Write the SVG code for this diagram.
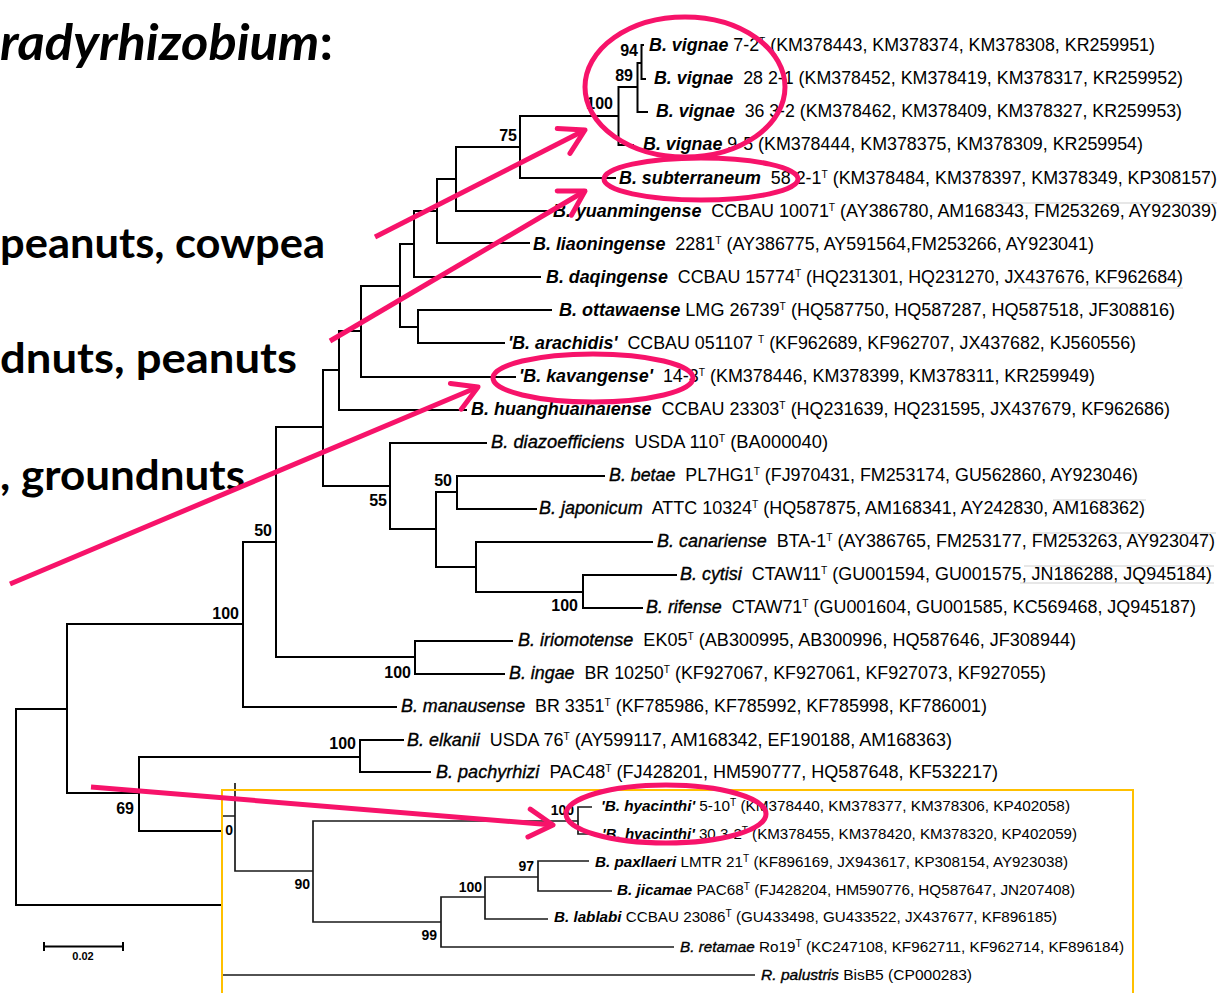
<svg xmlns="http://www.w3.org/2000/svg" width="1230" height="993" viewBox="0 0 1230 993">
<defs>
<style>
.tree{fill:none;stroke:#000;stroke-width:2}
.inner{fill:none;stroke:#1a1a1a;stroke-width:1.7}
.lbl{font-family:"Liberation Sans",Arial,sans-serif;font-size:17.5px;fill:#000}
.lo{font-size:15px}
.sp{font-weight:bold;font-style:italic}
.spi{font-style:italic;stroke:#000;stroke-width:0.35}
.sup{font-size:10px}
.bs{font-family:"Liberation Sans",Arial,sans-serif;font-weight:bold;font-size:16px;text-anchor:end;fill:#000}
.bs2{font-size:14px}
.big{font-family:Lato,"Open Sans",sans-serif;font-weight:bold;fill:#000}
.pk{fill:none;stroke:#F7136A;stroke-width:5}
.grid{stroke:#cfcfcf;stroke-width:1}
</style>
<marker id="ah" markerUnits="userSpaceOnUse" orient="auto" overflow="visible" viewBox="-30 -20 40 40" markerWidth="40" markerHeight="40" refX="0" refY="0">
<path d="M-24,-14 L0,0 L-24,14" fill="none" stroke="#F7136A" stroke-width="5" stroke-linecap="round" stroke-linejoin="round"/>
</marker>
</defs>
<rect width="1230" height="993" fill="#fff"/>

<g id="left-text">
<text class="big" x="0" y="60" font-size="50" font-style="italic" textLength="333" lengthAdjust="spacingAndGlyphs">radyrhizobium<tspan font-style="normal">:</tspan></text>
<text class="big" x="0" y="258" font-size="42" textLength="325" lengthAdjust="spacingAndGlyphs">peanuts, cowpea</text>
<text class="big" x="0" y="373" font-size="42" textLength="297" lengthAdjust="spacingAndGlyphs">dnuts, peanuts</text>
<text class="big" x="0" y="490" font-size="42" textLength="245" lengthAdjust="spacingAndGlyphs">, groundnuts</text>
</g>

<g id="grid-lines">
<path class="grid" d="M995,203H1217M1018,288H1183M1053,500H1146M1033,533H1216M1024,566H1214M1020,583H1214"/>
</g>

<g id="connectors">
<path class="tree" d="M644,45H641.5V79H646 M641.5,63H637.5V112H648 M637.5,87H618.5V145H634 M618.5,116H520V178H616 M520,147H456V211H551 M456,179H437V243H530 M437,211H414V277H541 M414,244H400V327H418 M552,310H418V343H505 M400,286H361V377H516 M361,331H339V410H467 M339,370H323V486H390 M487,443H390V529H436 M457,492H436V567H476 M605,476H457V509H537 M653,542H476V592H583 M677,575H583V608H643 M323,427H276V657H415 M513,641H415V674H505 M276,542H243V707H397 M243,624H67V793H139 M67,709H16V905H222 M360,757H139V831H222 M404,740H360V772H431"/>
<path class="inner" d="M222,816H235 M235,783V871H313 M578,821H313V922H441 M592,807H578V834H590 M485,897H441V947H674 M538,877H485V919H548 M589,861H538V891H612 M222,975H755"/>
</g>

<g id="yellow-box">
<path d="M222,1000V790H1133V1000" fill="none" stroke="#FFC000" stroke-width="2"/>
</g>

<g id="scale-bar">
<path d="M44,946.5H123M44,942V951M123,942V951" fill="none" stroke="#000" stroke-width="2"/>
<text x="83" y="960" font-family="Liberation Sans, Arial, sans-serif" font-size="11" font-weight="bold" text-anchor="middle">0.02</text>
</g>

<g id="bootstrap">
<text class="bs" x="638" y="56">94</text>
<text class="bs" x="633" y="81">89</text>
<text class="bs" x="613" y="109">100</text>
<text class="bs" x="517" y="141">75</text>
<text class="bs" x="387" y="506">55</text>
<text class="bs" x="452" y="486">50</text>
<text class="bs" x="578" y="611">100</text>
<text class="bs" x="272" y="536">50</text>
<text class="bs" x="411" y="678">100</text>
<text class="bs" x="239" y="619">100</text>
<text class="bs" x="356" y="749">100</text>
<text class="bs" x="134" y="814">69</text>
<text class="bs bs2" x="233" y="835">0</text>
<text class="bs bs2" x="574" y="815">100</text>
<text class="bs bs2" x="534" y="871">97</text>
<text class="bs bs2" x="482" y="892">100</text>
<text class="bs bs2" x="310" y="889">90</text>
<text class="bs bs2" x="437" y="940">99</text>
</g>

<g id="leaf-vignae-7-2"><text class="lbl" x="649" y="51" textLength="506" lengthAdjust="spacingAndGlyphs" xml:space="preserve"><tspan class="sp">B. vignae</tspan> 7-2<tspan class="sup" dy="-6">T</tspan><tspan dy="6"> (KM378443, KM378374, KM378308, KR259951)</tspan></text></g>
<g id="leaf-vignae-28"><text class="lbl" x="654" y="84" textLength="529" lengthAdjust="spacingAndGlyphs" xml:space="preserve"><tspan class="sp">B. vignae</tspan>  28 2-1 (KM378452, KM378419, KM378317, KR259952)</text></g>
<g id="leaf-vignae-36"><text class="lbl" x="656" y="117" textLength="526" lengthAdjust="spacingAndGlyphs" xml:space="preserve"><tspan class="sp">B. vignae</tspan>  36 3-2 (KM378462, KM378409, KM378327, KR259953)</text></g>
<g id="leaf-vignae-9-5"><text class="lbl" x="643" y="150" textLength="500" lengthAdjust="spacingAndGlyphs" xml:space="preserve"><tspan class="sp">B. vignae</tspan> 9-5 (KM378444, KM378375, KM378309, KR259954)</text></g>
<g id="leaf-subterraneum"><text class="lbl" x="619" y="184" textLength="598" lengthAdjust="spacingAndGlyphs" xml:space="preserve"><tspan class="sp">B. subterraneum</tspan>  58 2-1<tspan class="sup" dy="-6">T</tspan><tspan dy="6"> (KM378484, KM378397, KM378349, KP308157)</tspan></text></g>
<g id="leaf-yuanmingense"><text class="lbl" x="553" y="217" textLength="664" lengthAdjust="spacingAndGlyphs" xml:space="preserve"><tspan class="sp">B. yuanmingense</tspan>  CCBAU 10071<tspan class="sup" dy="-6">T</tspan><tspan dy="6"> (AY386780, AM168343, FM253269, AY923039)</tspan></text></g>
<g id="leaf-liaoningense"><text class="lbl" x="533" y="250" textLength="561" lengthAdjust="spacingAndGlyphs" xml:space="preserve"><tspan class="sp">B. liaoningense</tspan>  2281<tspan class="sup" dy="-6">T</tspan><tspan dy="6"> (AY386775, AY591564,FM253266, AY923041)</tspan></text></g>
<g id="leaf-daqingense"><text class="lbl" x="546" y="283" textLength="637" lengthAdjust="spacingAndGlyphs" xml:space="preserve"><tspan class="sp">B. daqingense</tspan>  CCBAU 15774<tspan class="sup" dy="-6">T</tspan><tspan dy="6"> (HQ231301, HQ231270, JX437676, KF962684)</tspan></text></g>
<g id="leaf-ottawaense"><text class="lbl" x="559" y="316" textLength="616" lengthAdjust="spacingAndGlyphs" xml:space="preserve"><tspan class="sp">B. ottawaense</tspan> LMG 26739<tspan class="sup" dy="-6">T</tspan><tspan dy="6"> (HQ587750, HQ587287, HQ587518, JF308816)</tspan></text></g>
<g id="leaf-arachidis"><text class="lbl" x="508" y="349" textLength="628" lengthAdjust="spacingAndGlyphs" xml:space="preserve"><tspan class="sp">'B. arachidis'</tspan>  CCBAU 051107 <tspan class="sup" dy="-6">T</tspan><tspan dy="6"> (KF962689, KF962707, JX437682, KJ560556)</tspan></text></g>
<g id="leaf-kavangense"><text class="lbl" x="519" y="382" textLength="576" lengthAdjust="spacingAndGlyphs" xml:space="preserve"><tspan class="sp">'B. kavangense'</tspan>  14-3<tspan class="sup" dy="-6">T</tspan><tspan dy="6"> (KM378446, KM378399, KM378311, KR259949)</tspan></text></g>
<g id="leaf-huanghuaihaiense"><text class="lbl" x="471" y="415" textLength="699" lengthAdjust="spacingAndGlyphs" xml:space="preserve"><tspan class="sp">B. huanghuaihaiense</tspan>  CCBAU 23303<tspan class="sup" dy="-6">T</tspan><tspan dy="6"> (HQ231639, HQ231595, JX437679, KF962686)</tspan></text></g>
<g id="leaf-diazoefficiens"><text class="lbl" x="491" y="448" textLength="337" lengthAdjust="spacingAndGlyphs" xml:space="preserve"><tspan class="spi">B. diazoefficiens</tspan>  USDA 110<tspan class="sup" dy="-6">T</tspan><tspan dy="6"> (BA000040)</tspan></text></g>
<g id="leaf-betae"><text class="lbl" x="609" y="481" textLength="529" lengthAdjust="spacingAndGlyphs" xml:space="preserve"><tspan class="spi">B. betae</tspan>  PL7HG1<tspan class="sup" dy="-6">T</tspan><tspan dy="6"> (FJ970431, FM253174, GU562860, AY923046)</tspan></text></g>
<g id="leaf-japonicum"><text class="lbl" x="539" y="514" textLength="606" lengthAdjust="spacingAndGlyphs" xml:space="preserve"><tspan class="spi">B. japonicum</tspan>  ATTC 10324<tspan class="sup" dy="-6">T</tspan><tspan dy="6"> (HQ587875, AM168341, AY242830, AM168362)</tspan></text></g>
<g id="leaf-canariense"><text class="lbl" x="657" y="547" textLength="558" lengthAdjust="spacingAndGlyphs" xml:space="preserve"><tspan class="spi">B. canariense</tspan>  BTA-1<tspan class="sup" dy="-6">T</tspan><tspan dy="6"> (AY386765, FM253177, FM253263, AY923047)</tspan></text></g>
<g id="leaf-cytisi"><text class="lbl" x="680" y="580" textLength="532" lengthAdjust="spacingAndGlyphs" xml:space="preserve"><tspan class="spi">B. cytisi</tspan>  CTAW11<tspan class="sup" dy="-6">T</tspan><tspan dy="6"> (GU001594, GU001575, JN186288, JQ945184)</tspan></text></g>
<g id="leaf-rifense"><text class="lbl" x="646" y="613" textLength="550" lengthAdjust="spacingAndGlyphs" xml:space="preserve"><tspan class="spi">B. rifense</tspan>  CTAW71<tspan class="sup" dy="-6">T</tspan><tspan dy="6"> (GU001604, GU001585, KC569468, JQ945187)</tspan></text></g>
<g id="leaf-iriomotense"><text class="lbl" x="518" y="646" textLength="558" lengthAdjust="spacingAndGlyphs" xml:space="preserve"><tspan class="spi">B. iriomotense</tspan>  EK05<tspan class="sup" dy="-6">T</tspan><tspan dy="6"> (AB300995, AB300996, HQ587646, JF308944)</tspan></text></g>
<g id="leaf-ingae"><text class="lbl" x="509" y="679" textLength="537" lengthAdjust="spacingAndGlyphs" xml:space="preserve"><tspan class="spi">B. ingae</tspan>  BR 10250<tspan class="sup" dy="-6">T</tspan><tspan dy="6"> (KF927067, KF927061, KF927073, KF927055)</tspan></text></g>
<g id="leaf-manausense"><text class="lbl" x="401" y="712" textLength="586" lengthAdjust="spacingAndGlyphs" xml:space="preserve"><tspan class="spi">B. manausense</tspan>  BR 3351<tspan class="sup" dy="-6">T</tspan><tspan dy="6"> (KF785986, KF785992, KF785998, KF786001)</tspan></text></g>
<g id="leaf-elkanii"><text class="lbl" x="407" y="746" textLength="545" lengthAdjust="spacingAndGlyphs" xml:space="preserve"><tspan class="spi">B. elkanii</tspan>  USDA 76<tspan class="sup" dy="-6">T</tspan><tspan dy="6"> (AY599117, AM168342, EF190188, AM168363)</tspan></text></g>
<g id="leaf-pachyrhizi"><text class="lbl" x="436" y="778" textLength="562" lengthAdjust="spacingAndGlyphs" xml:space="preserve"><tspan class="spi">B. pachyrhizi</tspan>  PAC48<tspan class="sup" dy="-6">T</tspan><tspan dy="6"> (FJ428201, HM590777, HQ587648, KF532217)</tspan></text></g>

<g id="leaf-hyacinthi-5-10"><text class="lbl lo" x="601" y="811" textLength="469" lengthAdjust="spacingAndGlyphs" xml:space="preserve"><tspan class="sp">'B. hyacinthi'</tspan> 5-10<tspan class="sup" dy="-5">T</tspan><tspan dy="5"> (KM378440, KM378377, KM378306, KP402058)</tspan></text></g>
<g id="leaf-hyacinthi-30"><text class="lbl lo" x="602" y="839" textLength="475" lengthAdjust="spacingAndGlyphs" xml:space="preserve"><tspan class="sp">'B. hyacinthi'</tspan> 30 3-2<tspan class="sup" dy="-5">T</tspan><tspan dy="5"> (KM378455, KM378420, KM378320, KP402059)</tspan></text></g>
<g id="leaf-paxllaeri"><text class="lbl lo" x="595" y="867" textLength="473" lengthAdjust="spacingAndGlyphs" xml:space="preserve"><tspan class="sp">B. paxllaeri</tspan> LMTR 21<tspan class="sup" dy="-5">T</tspan><tspan dy="5"> (KF896169, JX943617, KP308154, AY923038)</tspan></text></g>
<g id="leaf-jicamae"><text class="lbl lo" x="617" y="895" textLength="458" lengthAdjust="spacingAndGlyphs" xml:space="preserve"><tspan class="sp">B. jicamae</tspan> PAC68<tspan class="sup" dy="-5">T</tspan><tspan dy="5"> (FJ428204, HM590776, HQ587647, JN207408)</tspan></text></g>
<g id="leaf-lablabi"><text class="lbl lo" x="554" y="922" textLength="503" lengthAdjust="spacingAndGlyphs" xml:space="preserve"><tspan class="sp">B. lablabi</tspan> CCBAU 23086<tspan class="sup" dy="-5">T</tspan><tspan dy="5"> (GU433498, GU433522, JX437677, KF896185)</tspan></text></g>
<g id="leaf-retamae"><text class="lbl lo" x="680" y="952" textLength="444" lengthAdjust="spacingAndGlyphs" xml:space="preserve"><tspan class="spi">B. retamae</tspan> Ro19<tspan class="sup" dy="-5">T</tspan><tspan dy="5"> (KC247108, KF962711, KF962714, KF896184)</tspan></text></g>
<g id="leaf-palustris"><text class="lbl lo" x="761" y="980" textLength="211" lengthAdjust="spacingAndGlyphs" xml:space="preserve"><tspan class="spi">R. palustris</tspan> BisB5 (CP000283)</text></g>

<g id="highlights">
<ellipse class="pk" cx="685" cy="87" rx="100" ry="70"/>
<ellipse class="pk" cx="701" cy="179" rx="97" ry="21"/>
<ellipse class="pk" cx="593" cy="378" rx="100" ry="24"/>
<ellipse class="pk" cx="666" cy="814" rx="100" ry="29"/>
<path class="pk" d="M375,237L585,130" marker-end="url(#ah)"/>
<path class="pk" d="M330,341L585,191" marker-end="url(#ah)"/>
<path class="pk" d="M10,584L478,387" marker-end="url(#ah)"/>
<path class="pk" d="M91,787L553,825" marker-end="url(#ah)"/>
</g>
</svg>
